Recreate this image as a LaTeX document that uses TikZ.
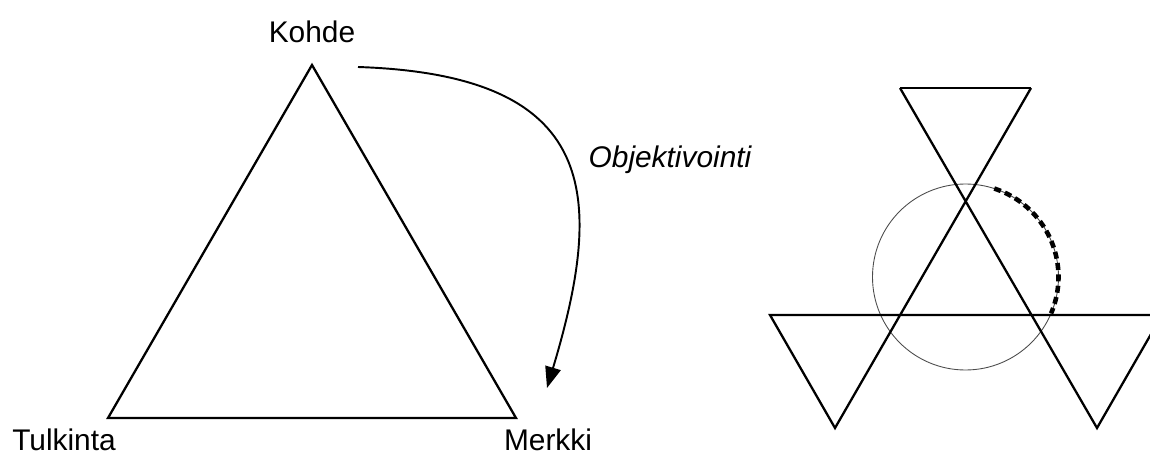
\documentclass[tikz,border=0pt]{standalone}
\usepackage{fontspec}
\setmainfont{Liberation Sans}
\usetikzlibrary{arrows.meta,calc}

\begin{document}
\begin{tikzpicture}[x=0.02cm, y=-0.02cm,
    label/.style={font=\fontsize{17}{20}\selectfont, inner sep=0pt},
    edge/.style={line width=1.3pt, line join=miter},
    arrowline/.style={line width=1.1pt, -{Triangle[length=12pt,width=9pt]}},
    ring/.style={black!70, line width=0.5pt},
    arcdash/.style={line width=2.6pt, dash pattern=on 4pt off 2.5pt}]
  \useasboundingbox (0,0) rectangle (1150,459);
  \clip (0,0) rectangle (1150,459);
  % Main triangle
  \coordinate (kohde) at (312,65);
  \coordinate (tulkinta) at (108,418);
  \coordinate (merkki) at (516,418);
  \draw[edge] (kohde) -- (tulkinta) -- (merkki) -- cycle;
  % Labels
  \node[label] (kohdelbl) at (312,32) {Kohde};
  \node[label] (tulkintalbl) at (64,440) {Tulkinta};
  \node[label] (merkkilbl) at (548,440) {Merkki};
  \node[label, font=\fontsize{17}{20}\selectfont\itshape] (objlbl) at (670,160) {Objektivointi};
  % Curved arrow
  \coordinate (objstart) at (358,67);
  \coordinate (objend) at (547,388);
  \draw[arrowline] (objstart) .. controls (600,75) and (605,195) .. (objend);
  % Right figure: three inverted triangles round an upright one
  \coordinate (ta) at (900,88);
  \coordinate (tb) at (1031,88);
  \coordinate (la) at (770,315);
  \coordinate (lb) at (835,428);
  \coordinate (ra) at (1162,315);
  \coordinate (rb) at (1097,428);
  \coordinate (mid) at (965.5,277);
  \draw[ring] (mid) circle (93);
  \draw[edge] (ta) -- (tb);
  \draw[edge] (ta) -- (rb) -- (ra) -- (la) -- (lb) -- (tb);
  % Dashed arc
  \draw[arcdash] ($(mid)+(-72:93)$) arc[start angle=-72, end angle=23, radius=93];
\end{tikzpicture}
\end{document}
